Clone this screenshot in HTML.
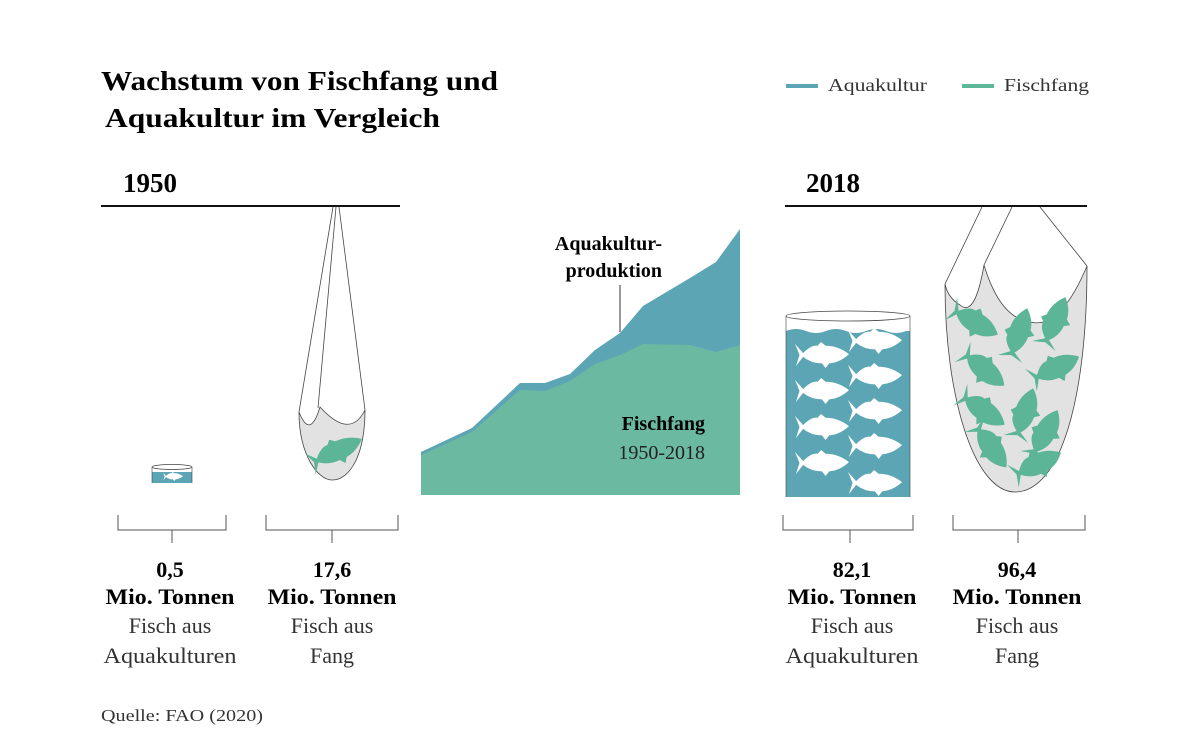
<!DOCTYPE html>
<html><head><meta charset="utf-8"><style>
html,body{margin:0;padding:0;background:#fff;}
svg{display:block;font-family:"Liberation Serif",serif;}
</style></head><body>
<svg width="1200" height="742" viewBox="0 0 1200 742" xmlns="http://www.w3.org/2000/svg">
<defs>
<symbol id="fish" viewBox="0 0 60 28" preserveAspectRatio="none">
<path d="M0,2 L9,12 Q18,3 25,4 L29,0 L34,4 Q48,4 60,13 Q50,22 38,23 L34,28 L30,23 Q18,23 9,16 L1,26 L5,14 Z"/>
</symbol>
</defs>
<text x="101" y="90" font-size="27" font-weight="bold" textLength="397" lengthAdjust="spacingAndGlyphs">Wachstum von Fischfang und</text>
<text x="105" y="127" font-size="27" font-weight="bold" textLength="335" lengthAdjust="spacingAndGlyphs">Aquakultur im Vergleich</text>
<line x1="786" y1="86" x2="818" y2="86" stroke="#5ca5b5" stroke-width="4"/>
<text x="828" y="91" font-size="18" fill="#333" textLength="99" lengthAdjust="spacingAndGlyphs">Aquakultur</text>
<line x1="962" y1="86" x2="994" y2="86" stroke="#5db89a" stroke-width="4"/>
<text x="1004" y="91" font-size="18" fill="#333" textLength="85" lengthAdjust="spacingAndGlyphs">Fischfang</text>
<text x="123" y="192" font-size="27" font-weight="bold">1950</text>
<line x1="101" y1="206" x2="400" y2="206" stroke="#111" stroke-width="2"/>
<text x="806" y="192" font-size="27" font-weight="bold">2018</text>
<line x1="785" y1="206" x2="1087" y2="206" stroke="#111" stroke-width="2"/>

<rect x="152" y="467" width="40" height="16" fill="#5ca5b5"/>
<rect x="152" y="467" width="40" height="5" fill="#fff"/>
<ellipse cx="172" cy="467" rx="20" ry="2.5" fill="#fff" stroke="#444" stroke-width="0.8"/>
<line x1="152" y1="467" x2="152" y2="483" stroke="#444" stroke-width="0.6"/>
<line x1="192" y1="467" x2="192" y2="483" stroke="#444" stroke-width="0.6"/>
<use href="#fish" x="163" y="472" width="20" height="9" fill="#fff"/>

<path d="M299,412 C299,455 318,480 332,480 C350,480 365,455 365,410 Q350,440 320,407 Q310,440 299,412 Z" fill="#e2e2e2" stroke="#444" stroke-width="0.8"/>
<path d="M299,412 L333,207 M318,408 L336,207 M365,410 L339,207" stroke="#444" stroke-width="0.8" fill="none"/>
<use href="#fish" x="307" y="438" width="58" height="28" fill="#5db597" transform="rotate(-25 336 452)"/>

<path d="M421,452 L472,428 L520,383 L545,383 L570,374 L595,350 L620,333 L643,306 L690,278 L716,262 L740,229 L740,495 L421,495 Z" fill="#5ca5b5"/>
<path d="M421,455 L472,432 L520,390 L545,391 L570,381 L595,364 L620,355 L643,344 L690,345 L716,352 L740,345 L740,495 L421,495 Z" fill="#6bb9a0"/>
<text x="662" y="250" font-size="20" font-weight="bold" text-anchor="end">Aquakultur-</text>
<text x="662" y="277" font-size="20" font-weight="bold" text-anchor="end">produktion</text>
<line x1="620" y1="285" x2="620" y2="332" stroke="#333" stroke-width="1"/>
<text x="705" y="430" font-size="20" font-weight="bold" text-anchor="end">Fischfang</text>
<text x="705" y="459" font-size="20" text-anchor="end" fill="#222">1950-2018</text>

<rect x="786" y="325" width="124" height="172" fill="#5ca5b5"/>
<path d="M786,316 L786,331 Q796,327 806,331 Q816,335 826,331 Q836,327 846,331 Q856,335 866,331 Q876,327 886,331 Q896,335 906,331 L910,331 L910,316 Z" fill="#fff"/>
<ellipse cx="848" cy="316" rx="62" ry="5" fill="#fff" stroke="#444" stroke-width="0.8"/>
<line x1="786" y1="316" x2="786" y2="497" stroke="#444" stroke-width="0.6"/>
<line x1="910" y1="316" x2="910" y2="497" stroke="#444" stroke-width="0.6"/>
<g fill="#fff">
<use href="#fish" x="795" y="342" width="54" height="26"/>
<use href="#fish" x="795" y="378" width="54" height="26"/>
<use href="#fish" x="795" y="414" width="54" height="26"/>
<use href="#fish" x="795" y="450" width="54" height="26"/>
<use href="#fish" x="848" y="328" width="54" height="26"/>
<use href="#fish" x="848" y="363" width="54" height="26"/>
<use href="#fish" x="848" y="398" width="54" height="26"/>
<use href="#fish" x="848" y="433" width="54" height="26"/>
<use href="#fish" x="848" y="470" width="54" height="26"/>
</g>

<path d="M945,284 C945,400 975,492 1015,492 C1060,492 1087,400 1087,266 Q1060,330 1030,322 Q1000,318 984,265 Q975,318 960,305 Q948,298 945,284 Z" fill="#e2e2e2" stroke="#444" stroke-width="0.8"/>
<path d="M945,284 L982,207 M984,265 L1012,207 M1087,266 L1040,207" stroke="#444" stroke-width="0.8" fill="none"/>
<g fill="#5db597">
<use href="#fish" x="947" y="307" width="54" height="30" transform="rotate(30 974 322)"/>
<use href="#fish" x="992" y="319" width="54" height="30" transform="rotate(-70 1019 334)"/>
<use href="#fish" x="1028" y="307" width="54" height="30" transform="rotate(-65 1055 322)"/>
<use href="#fish" x="956" y="354" width="54" height="30" transform="rotate(40 983 369)"/>
<use href="#fish" x="1028" y="354" width="54" height="30" transform="rotate(-25 1055 369)"/>
<use href="#fish" x="955" y="395" width="54" height="30" transform="rotate(35 982 410)"/>
<use href="#fish" x="998" y="399" width="54" height="30" transform="rotate(-70 1025 414)"/>
<use href="#fish" x="1018" y="419" width="54" height="30" transform="rotate(-60 1045 434)"/>
<use href="#fish" x="963" y="431" width="54" height="30" transform="rotate(55 990 446)"/>
<use href="#fish" x="1010" y="450" width="54" height="30" transform="rotate(-25 1037 465)"/>
</g>

<g stroke="#555" stroke-width="1" fill="none">
<path d="M118,515 L118,530 L226,530 L226,515 M172,530 L172,543"/>
<path d="M266,515 L266,530 L398,530 L398,515 M332,530 L332,543"/>
<path d="M783,515 L783,530 L913,530 L913,515 M850,530 L850,543"/>
<path d="M953,515 L953,530 L1085,530 L1085,515 M1018,530 L1018,543"/>
</g>
<g font-size="22" text-anchor="middle">
<text x="170" y="577" font-weight="bold">0,5</text>
<text x="170" y="604" font-weight="bold" textLength="129" lengthAdjust="spacingAndGlyphs">Mio. Tonnen</text>
<text x="170" y="633" fill="#333">Fisch aus</text>
<text x="170" y="663" fill="#333" textLength="133" lengthAdjust="spacingAndGlyphs">Aquakulturen</text>
<text x="332" y="577" font-weight="bold">17,6</text>
<text x="332" y="604" font-weight="bold" textLength="129" lengthAdjust="spacingAndGlyphs">Mio. Tonnen</text>
<text x="332" y="633" fill="#333">Fisch aus</text>
<text x="332" y="663" fill="#333">Fang</text>
<text x="852" y="577" font-weight="bold">82,1</text>
<text x="852" y="604" font-weight="bold" textLength="129" lengthAdjust="spacingAndGlyphs">Mio. Tonnen</text>
<text x="852" y="633" fill="#333">Fisch aus</text>
<text x="852" y="663" fill="#333" textLength="133" lengthAdjust="spacingAndGlyphs">Aquakulturen</text>
<text x="1017" y="577" font-weight="bold">96,4</text>
<text x="1017" y="604" font-weight="bold" textLength="129" lengthAdjust="spacingAndGlyphs">Mio. Tonnen</text>
<text x="1017" y="633" fill="#333">Fisch aus</text>
<text x="1017" y="663" fill="#333">Fang</text>
</g>
<text x="101" y="721" font-size="17" fill="#333" textLength="162" lengthAdjust="spacingAndGlyphs">Quelle: FAO (2020)</text>
</svg>
</body></html>
